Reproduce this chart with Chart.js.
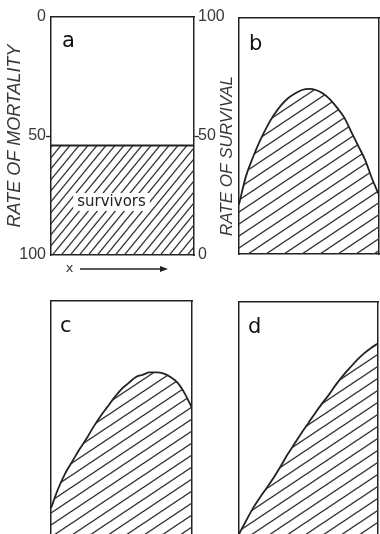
<!DOCTYPE html>
<html><head><meta charset="utf-8">
<script src="https://cdn.jsdelivr.net/npm/chart.js@4.4.1/dist/chart.umd.min.js"></script>
<style>
html,body{margin:0;padding:0;background:#fff;}
#wrap{position:relative;width:380px;height:534px;overflow:hidden;background:#fff;}
canvas{position:absolute;}
</style></head><body>
<div id="wrap">
<canvas id="ca" width="232" height="290" style="left:0;top:0"></canvas>
<canvas id="cb" width="165" height="290" style="left:215px;top:0"></canvas>
<canvas id="cc" width="215" height="270" style="left:0;top:283px"></canvas>
<canvas id="cd" width="165" height="270" style="left:215px;top:283px"></canvas>
</div>
<script>
// ---- data (x = position along the gradient, 0..100; y = rate of survival, %) ----
const xA = [0, 100];
const survivalA = [46, 46];
const xCurve = [0,5,10,15,20,25,30,35,40,45,50,55,60,65,70,75,80,85,90,95,100];
const survivalB = [21,33,41,48,54,59,63,66,68,69.5,70,69.5,68,65.5,62,58,52,46,40,32,25];
const survivalC = [13,21,27.5,32.5,37.5,42,47,51.5,55.5,59.5,63,65.5,68,69,70,70,69.5,68,65.5,61,55];
const survivalD = [2.5,8,13.3,17.8,22,26.3,31,36,40.5,45,49.2,53.5,57.5,61.3,65.5,69.2,72.5,75.7,78.4,80.7,82.6];
const mortalityTicks = [0, 50, 100];
const panelLetters = ['a','b','c','d'];
const titleMortality = 'RATE OF MORTALITY';
const titleSurvival = 'RATE OF SURVIVAL';
const labelSurvivors = 'survivors';
const labelX = 'x';

const INK = '#222';
const TXT = '#383838';

function hatch(w, h, lw) {
  const c = document.createElement('canvas');
  c.width = w; c.height = h;
  const g = c.getContext('2d');
  g.strokeStyle = '#333'; g.lineWidth = lw; g.lineCap = 'square';
  for (let n = 0; n <= 2; n++) {
    g.beginPath();
    g.moveTo(-w, n * h + h);
    g.lineTo(2 * w, n * h - 2 * h);
    g.stroke();
  }
  return c;
}
function pts(xs, ys) { return xs.map((x, i) => ({x: x, y: ys[i]})); }

const annot = {
  id: 'annot',
  afterDraw(chart, args, opts) {
    const ctx = chart.ctx, a = chart.chartArea;
    (opts.items || []).forEach(it => {
      ctx.save();
      const x = a.left + it.dx, y = a.top + it.dy;
      if (it.arrow) {
        ctx.strokeStyle = INK; ctx.fillStyle = INK; ctx.lineWidth = 1.3;
        ctx.beginPath(); ctx.moveTo(x, y); ctx.lineTo(x + it.len - 6, y); ctx.stroke();
        ctx.beginPath(); ctx.moveTo(x + it.len, y); ctx.lineTo(x + it.len - 8, y - 3); ctx.lineTo(x + it.len - 8, y + 3); ctx.closePath(); ctx.fill();
        ctx.restore(); return;
      }
      ctx.font = it.font;
      ctx.fillStyle = it.color || TXT;
      ctx.textAlign = it.align || 'left';
      ctx.textBaseline = it.baseline || 'alphabetic';
      ctx.translate(x, y);
      if (it.rot) ctx.rotate(it.rot);
      if (it.box) {
        const m = ctx.measureText(it.text);
        ctx.fillStyle = '#fff';
        ctx.fillRect(-m.width / 2 - 4, -9, m.width + 8, 18);
        ctx.fillStyle = it.color || TXT;
      }
      ctx.fillText(it.text, 0, 0);
      ctx.restore();
    });
  }
};

function frameX(pos, size) {
  return {type: 'linear', position: pos, min: 0, max: 100, display: true,
    ticks: {display: false}, grid: {display: false},
    border: {display: true, color: INK, width: 1.5},
    afterFit: s => { s.height = size; }};
}
function frameY(pos, size) {
  return {type: 'linear', position: pos, min: 0, max: 100, display: true,
    ticks: {display: false}, grid: {display: false},
    border: {display: true, color: INK, width: 1.5},
    afterFit: s => { s.width = size; }};
}
const tickFont = {family: 'Liberation Sans', size: 16};
function tickedY(pos, size, reverse, title) {
  const o = {type: 'linear', position: pos, min: 0, max: 100, reverse: reverse, display: true,
    afterBuildTicks: s => { s.ticks = mortalityTicks.map(v => ({value: v})); },
    ticks: {font: tickFont, color: TXT, padding: pos === 'left' ? 0 : -1},
    grid: {display: true, drawOnChartArea: false, drawTicks: true, tickLength: 5, tickWidth: 1.3,
      tickColor: c => (c.tick && c.tick.value === 50) ? INK : 'rgba(0,0,0,0)'},
    border: {display: true, color: INK, width: 1.5},
    afterFit: s => { s.width = size; }};
  if (title) o.title = {display: true, text: title, color: TXT,
    font: {family: 'Liberation Sans', size: 18, style: 'italic'}, padding: {top: 4, bottom: 0}};
  return o;
}
function lineDs(xs, ys, pattern, yId) {
  return {data: pts(xs, ys), yAxisID: yId || 'y', xAxisID: 'x',
    borderColor: INK, borderWidth: 1.8, pointRadius: 0, cubicInterpolationMode: 'monotone',
    fill: 'start', backgroundColor: pattern};
}
function base(datasets, scales, items) {
  return {type: 'line', data: {datasets: datasets}, plugins: [annot],
    options: {responsive: false, animation: false, devicePixelRatio: 1,
      layout: {padding: 0}, scales: scales,
      plugins: {legend: {display: false}, tooltip: {enabled: false}, annot: {items: items}}}};
}
const letterFont = '21px "DejaVu Sans"';
const LET = '#111';

// panel a
const ctxA = document.getElementById('ca').getContext('2d');
const patA = ctxA.createPattern(hatch(9, 11, 1.3), 'repeat');
new Chart(ctxA, base([lineDs(xA, survivalA, patA, 'yS')], {
  x: frameX('bottom', 35), xTop: frameX('top', 17),
  y: tickedY('left', 51, true, titleMortality),
  yS: tickedY('right', 38, false, null)
}, [
  {text: panelLetters[0], dx: 11, dy: 30, font: letterFont, color: LET},
  {text: labelSurvivors, dx: 60.5, dy: 185, font: '15px "DejaVu Sans"', align: 'center', baseline: 'middle', box: true, color: '#222'},
  {text: labelX, dx: 18.5, dy: 252, font: '13px "DejaVu Sans"', align: 'center', baseline: 'middle'},
  {arrow: true, dx: 29, dy: 252, len: 88}
]));

// panel b
const ctxB = document.getElementById('cb').getContext('2d');
const patB = ctxB.createPattern(hatch(18, 12, 1.4), 'repeat');
new Chart(ctxB, base([lineDs(xCurve, survivalB, patB)], {
  x: frameX('bottom', 36), xTop: frameX('top', 18),
  y: frameY('left', 24), yR: frameY('right', 1)
}, [
  {text: panelLetters[1], dx: 10, dy: 32, font: letterFont, color: LET},
  {text: titleSurvival, dx: -12, dy: 138, font: 'italic 17px "Liberation Sans"', align: 'center', baseline: 'middle', rot: -Math.PI / 2}
]));

// panel c
const ctxC = document.getElementById('cc').getContext('2d');
const patC = ctxC.createPattern(hatch(18, 12, 1.4), 'repeat');
new Chart(ctxC, base([lineDs(xCurve, survivalC, patC)], {
  x: frameX('bottom', 14), xTop: frameX('top', 18),
  y: frameY('left', 51), yR: frameY('right', 23)
}, [
  {text: panelLetters[2], dx: 9, dy: 31, font: letterFont, color: LET}
]));

// panel d
const ctxD = document.getElementById('cd').getContext('2d');
const patD = ctxD.createPattern(hatch(18, 12, 1.4), 'repeat');
new Chart(ctxD, base([lineDs(xCurve, survivalD, patD)], {
  x: frameX('bottom', 13), xTop: frameX('top', 19),
  y: frameY('left', 24), yR: frameY('right', 2)
}, [
  {text: panelLetters[3], dx: 9, dy: 31, font: letterFont, color: LET}
]));
</script>
</body></html>
